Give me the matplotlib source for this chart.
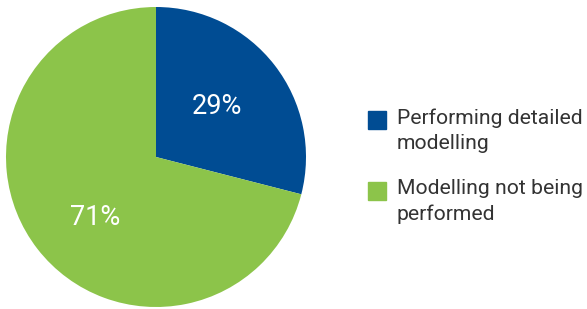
import numpy as np
import matplotlib.pyplot as plt
from matplotlib.patches import Rectangle

labels = ['Performing detailed\nmodelling', 'Modelling not being\nperformed']
values = [29, 71]
colors = ['#004C93', '#8CC44A']

plt.rcParams['font.family'] = ['Roboto', 'DejaVu Sans']

W, H = 587, 309
fig = plt.figure(figsize=(W / 100, H / 100), dpi=100)
ax = fig.add_axes([6 / W, 2 / H, 300 / W, 300 / H])
wedges, texts, autotexts = ax.pie(values, colors=colors, startangle=90, counterclock=False,
                                  autopct='%d%%', pctdistance=0.55,
                                  wedgeprops=dict(linewidth=0))
# nudge the percentage labels a bit (radius, angle offset in degrees)
for w, t, r, da in zip(wedges, autotexts, [0.53, 0.57], [2, 7]):
    a = np.deg2rad((w.theta1 + w.theta2) / 2 + da)
    t.set_position((r * np.cos(a), r * np.sin(a)))
    t.set_color('white')
    t.set_fontsize(19.5)
ax.set_aspect('equal')
ax.set_xlim(-1, 1)
ax.set_ylim(-1, 1)

# legend drawn by hand
ys = [111, 182]
for y, lab, c in zip(ys, labels, colors):
    fig.patches.append(Rectangle((368 / W, 1 - (y + 18) / H), 18 / W, 18 / H,
                                 transform=fig.transFigure, color=c))
    fig.text(397 / W, 1 - (y - 3) / H, lab, fontsize=15.2, color='#333333',
             va='top', ha='left', linespacing=1.4)

fig.savefig('out.png', dpi=100)
